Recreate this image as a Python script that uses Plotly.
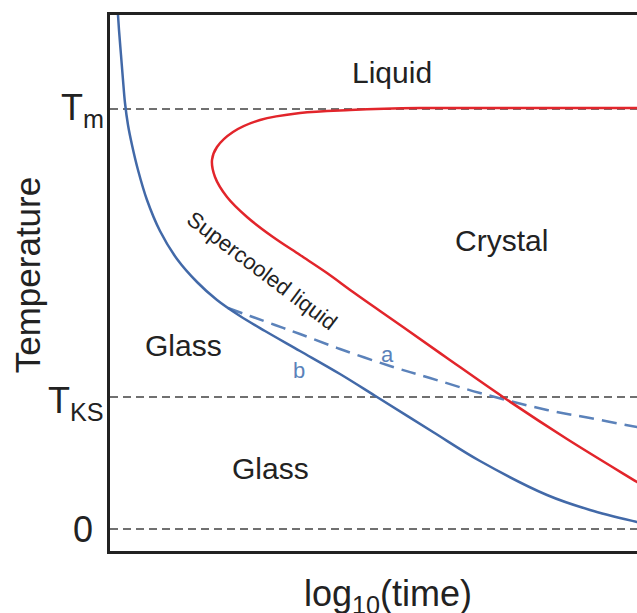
import plotly.graph_objects as go

# Arbitrary units: log10(time) axis 0..527, temperature with T_m = 420
glass_curve_x = [7, 9, 11, 13, 15, 18, 22, 28, 37, 50, 67, 87, 107, 130, 155, 190, 230, 267, 323, 370, 437, 480, 527, 545]
glass_curve_y = [529, 499, 474, 449, 426, 404, 384, 359, 329, 298, 270, 247, 229, 213, 198, 178, 155, 132, 97, 68, 34, 19, 7, 3]

crystal_x = [545, 527, 440, 370, 310, 240, 190, 150, 123, 107, 102, 105, 117, 137, 163, 190, 217, 243, 270, 293, 337, 393, 457, 527, 545]
crystal_y = [421, 421, 421, 421, 421, 419, 416, 409, 397, 382, 369, 352, 332, 312, 292, 274, 256, 237, 218, 202, 171, 132, 90, 47, 36]

slow_x = [118, 140, 165, 190, 230, 280, 320, 370, 437, 480, 527, 545]
slow_y = [221, 213, 204, 195, 180, 163, 151, 136, 119, 111, 102, 99]

level_values = [0, 132, 420]
level_labels = ["0", "T<sub>KS</sub>", "T<sub>m</sub>"]

x_range = [0, 527]
y_range = [-22, 514]

FONT = "Liberation Sans, Arial, sans-serif"
INK = "#222222"
BLUE_LIGHT = "#5b82ba"

fig = go.Figure()

for v in level_values:
    fig.add_trace(go.Scatter(x=x_range, y=[v, v], mode="lines",
                             line=dict(color="#707070", width=2.2, dash="8px,5px"),
                             hoverinfo="skip", showlegend=False))

fig.add_trace(go.Scatter(x=slow_x, y=slow_y, mode="lines", line_shape="spline",
                         line=dict(color=BLUE_LIGHT, width=2.5, dash="15px,8px"),
                         showlegend=False))
fig.add_trace(go.Scatter(x=crystal_x, y=crystal_y, mode="lines", line_shape="spline",
                         line=dict(color="#e2252b", width=2.5), showlegend=False))
fig.add_trace(go.Scatter(x=glass_curve_x, y=glass_curve_y, mode="lines", line_shape="spline",
                         line=dict(color="#4269a8", width=2.5), showlegend=False))

annotations = []
# level (tick) labels at the left of the axis
label_x = [-0.029, -0.008, -0.008]
label_dy = [0, -6, -1]
for v, t, lx, dy in zip(level_values, level_labels, label_x, label_dy):
    annotations.append(dict(x=lx, xref="paper", y=v, yref="y", text=t, showarrow=False,
                            xanchor="right", yanchor="middle", yshift=dy,
                            font=dict(size=36, color=INK, family=FONT)))

region = [("Liquid", 282, 457), ("Crystal", 391, 289), ("Glass", 73, 184), ("Glass", 160, 61)]
for t, x, y in region:
    annotations.append(dict(x=x, y=y, text=t, showarrow=False, font=dict(size=30, color=INK, family=FONT)))

annotations.append(dict(x=152, y=259, text="Supercooled liquid", textangle=37, showarrow=False,
                        font=dict(size=22, color=INK, family=FONT)))
annotations.append(dict(x=277, y=175, text="a", showarrow=False, font=dict(size=22, color=BLUE_LIGHT, family=FONT)))
annotations.append(dict(x=189, y=159, text="b", showarrow=False, font=dict(size=22, color=BLUE_LIGHT, family=FONT)))

annotations.append(dict(x=-0.155, xref="paper", y=0.515, yref="paper", text="Temperature", textangle=-90,
                        showarrow=False, xanchor="center", yanchor="middle",
                        font=dict(size=35, color=INK, family=FONT)))
annotations.append(dict(x=0.527, xref="paper", y=-0.037, yref="paper", text="log<sub>10</sub>(time)",
                        showarrow=False, xanchor="center", yanchor="top",
                        font=dict(size=36, color=INK, family=FONT)))

fig.update_layout(
    width=637, height=613,
    margin=dict(l=110, r=0, t=15, b=62),
    paper_bgcolor="white", plot_bgcolor="white",
    annotations=annotations,
    xaxis=dict(range=x_range, showgrid=False, zeroline=False, showticklabels=False, ticks="",
               showline=True, linecolor=INK, linewidth=3, mirror=True),
    yaxis=dict(range=y_range, showgrid=False, zeroline=False, showticklabels=False, ticks="",
               showline=True, linecolor=INK, linewidth=3, mirror=False),
)

# remove the default page margin so the figure fills the 637x613 window exactly
fig.write_html("out.html", config={"displayModeBar": False},
               post_script="document.body.style.margin='0';document.body.style.overflow='hidden';")
